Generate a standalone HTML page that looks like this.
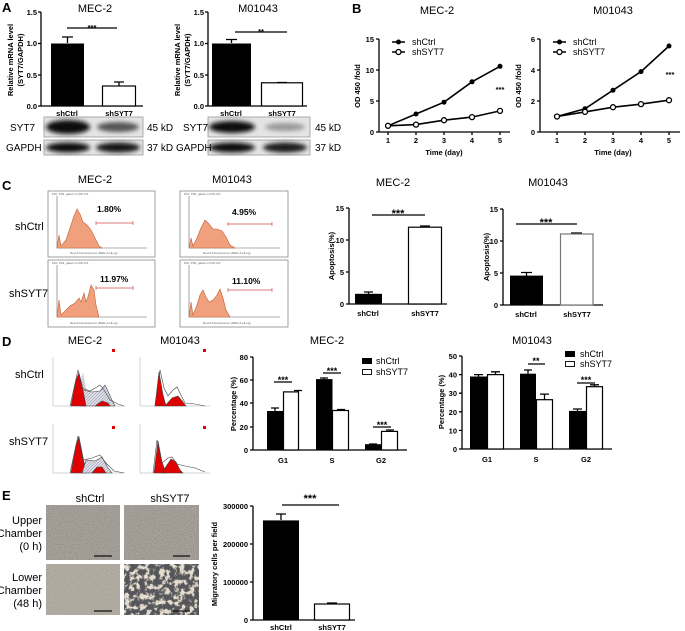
<!DOCTYPE html>
<html><head><meta charset="utf-8"><style>
html,body{margin:0;padding:0;background:#fff}
svg{display:block;font-family:"Liberation Sans",Arial,sans-serif}
.t{font-size:11px}
.k{font-size:7.5px;font-weight:bold}
.L{font-size:13px;font-weight:bold}
.r{font-size:11px}
.b{font-size:10px}
</style></head><body>
<svg width="685" height="631" viewBox="0 0 685 631" xmlns="http://www.w3.org/2000/svg">
<defs>
<filter id="noise" x="0" y="0" width="100%" height="100%">
<feTurbulence type="fractalNoise" baseFrequency="0.9" numOctaves="2" seed="3"/>
<feColorMatrix type="matrix" values="0 0 0 0 0.25  0 0 0 0 0.24  0 0 0 0 0.22  0 0 0 -2.2 1.3"/>
</filter>
<filter id="blob" x="0" y="0" width="100%" height="100%">
<feTurbulence type="fractalNoise" baseFrequency="0.2" numOctaves="3" seed="7"/>
<feColorMatrix type="matrix" values="0 0 0 0 0.78  0 0 0 0 0.72  0 0 0 0 0.62  0 0 0 -6 3.2"/>
</filter>
<filter id="bl"><feGaussianBlur stdDeviation="2"/></filter>
<pattern id="hatch" width="3" height="3" patternUnits="userSpaceOnUse"><rect width="3" height="3" fill="#dcdce6"/><path d="M0 3L3 0" stroke="#8a8aa0" stroke-width="0.5"/></pattern>
</defs>
<g fill="#000" stroke="none">
<text x="2" y="12" class="L">A</text>
<text x="95" y="12" class="t" text-anchor="middle">MEC-2</text>
<text x="258" y="12" class="t" text-anchor="middle">M01043</text>
<g class="k" text-anchor="end">
<text x="37" y="15">1.5</text><text x="37" y="46">1.0</text><text x="37" y="78">0.5</text><text x="37" y="109">0.0</text>
<text x="204" y="15">1.5</text><text x="204" y="46">1.0</text><text x="204" y="78">0.5</text><text x="204" y="109">0.0</text>
</g>
<text transform="translate(13,60) rotate(-90)" class="k" text-anchor="middle">Relative mRNA level</text>
<text transform="translate(23,60) rotate(-90)" class="k" text-anchor="middle">(SYT7/GAPDH)</text>
<text transform="translate(180,60) rotate(-90)" class="k" text-anchor="middle">Relative mRNA level</text>
<text transform="translate(190,60) rotate(-90)" class="k" text-anchor="middle">(SYT7/GAPDH)</text>
<text x="67" y="116" class="k" text-anchor="middle">shCtrl</text>
<text x="119" y="116" class="k" text-anchor="middle">shSYT7</text>
<text x="231" y="116" class="k" text-anchor="middle">shCtrl</text>
<text x="282" y="116" class="k" text-anchor="middle">shSYT7</text>
<text x="92" y="30" class="k" text-anchor="middle" font-size="11">***</text>
<text x="261" y="34" class="k" text-anchor="middle" font-size="11">**</text>
</g>
<g stroke="#000" stroke-width="1.3" fill="none">
<path d="M41 12V106H143M38 12H41M38 43.5H41M38 75H41M38 106H41"/>
<path d="M208 12V106H307M205 12H208M205 43.5H208M205 75H208M205 106H208"/>
<path d="M67 28H117M235 32H287"/>
<path d="M67.5 43V37M62 37H73M119 86V82M114 82H124"/>
<path d="M231.5 43V39.5M226 39.5H237M282 83V82.5M277 82.5H287"/>
</g>
<rect x="51" y="43.5" width="33" height="62.5" fill="#000"/>
<rect x="102.5" y="86" width="33" height="20" fill="#fff" stroke="#000" stroke-width="1.2"/>
<rect x="212" y="43.5" width="39" height="62.5" fill="#000"/>
<rect x="261.5" y="82.8" width="41" height="23.2" fill="#fff" stroke="#000" stroke-width="1.2"/>
<g>
<rect x="44" y="117" width="99" height="20" fill="#e4e4e4" stroke="#999" stroke-width="0.8"/>
<rect x="44" y="140" width="99" height="15" fill="#e4e4e4" stroke="#999" stroke-width="0.8"/>
<rect x="208" y="117" width="102" height="20" fill="#e4e4e4" stroke="#999" stroke-width="0.8"/>
<rect x="208" y="140" width="102" height="15" fill="#e4e4e4" stroke="#999" stroke-width="0.8"/>
<g filter="url(#bl)">
<ellipse cx="68" cy="127" rx="22" ry="7" fill="#111"/>
<ellipse cx="118" cy="127" rx="21" ry="5" fill="#555"/>
<ellipse cx="68" cy="147.5" rx="22" ry="5" fill="#111"/>
<ellipse cx="118" cy="147.5" rx="22" ry="5" fill="#151515"/>
<ellipse cx="232" cy="127" rx="23" ry="6" fill="#111"/>
<ellipse cx="285" cy="127" rx="20" ry="4" fill="#999"/>
<ellipse cx="232" cy="147.5" rx="23" ry="5" fill="#111"/>
<ellipse cx="285" cy="147.5" rx="22" ry="5" fill="#1a1a1a"/>
</g>
</g>
<g class="b">
<text x="10" y="131">SYT7</text><text x="6" y="151">GAPDH</text>
<text x="147" y="131">45 kD</text><text x="147" y="151">37 kD</text>
<text x="183" y="131">SYT7</text><text x="176" y="151">GAPDH</text>
<text x="315" y="131">45 kD</text><text x="315" y="151">37 kD</text>
</g>
<text x="352" y="13" class="L">B</text>
<text x="437" y="14" class="t" text-anchor="middle">MEC-2</text>
<text x="613" y="14" class="t" text-anchor="middle">M01043</text>
<g stroke="#000" stroke-width="1.3" fill="none">
<path d="M379 39V132H510M376 39H379M376 70H379M376 101H379M376 132H379M388 132V135M416 132V135M444 132V135M472 132V135M500 132V135"/>
<path d="M540 39V132H680M537 39H540M537 70H540M537 101H540M537 132H540M557 132V135M585 132V135M613 132V135M641 132V135M669 132V135"/>
<polyline points="388,125.8 416,114 444,102.2 472,81.8 500,66.3" stroke-width="1.6"/>
<polyline points="388,125.8 416,124.6 444,120.2 472,117.1 500,110.9" stroke-width="1.6"/>
<polyline points="557,116.5 585,108.8 613,90.2 641,71.6 669,46" stroke-width="1.6"/>
<polyline points="557,116.5 585,111.9 613,107.2 641,104.1 669,100.2" stroke-width="1.6"/>
<path d="M392 42H405M392 52H405M553 42H566M553 52H566" stroke-width="1.6"/>
</g>
<g fill="#000"><circle cx="388" cy="125.8" r="2.5"/><circle cx="416" cy="114" r="2.5"/><circle cx="444" cy="102.2" r="2.5"/><circle cx="472" cy="81.8" r="2.5"/><circle cx="500" cy="66.3" r="2.5"/>
<circle cx="557" cy="116.5" r="2.5"/><circle cx="585" cy="108.8" r="2.5"/><circle cx="613" cy="90.2" r="2.5"/><circle cx="641" cy="71.6" r="2.5"/><circle cx="669" cy="46" r="2.5"/>
<circle cx="398.5" cy="42" r="2.5"/><circle cx="559.5" cy="42" r="2.5"/></g>
<g fill="#fff" stroke="#000" stroke-width="1.3"><circle cx="388" cy="125.8" r="2.5"/><circle cx="416" cy="124.6" r="2.5"/><circle cx="444" cy="120.2" r="2.5"/><circle cx="472" cy="117.1" r="2.5"/><circle cx="500" cy="110.9" r="2.5"/>
<circle cx="557" cy="116.5" r="2.5"/><circle cx="585" cy="111.9" r="2.5"/><circle cx="613" cy="107.2" r="2.5"/><circle cx="641" cy="104.1" r="2.5"/><circle cx="669" cy="100.2" r="2.5"/>
<circle cx="398.5" cy="52" r="2.5"/><circle cx="559.5" cy="52" r="2.5"/></g>
<g class="k">
<text x="374" y="42" text-anchor="end">15</text><text x="374" y="73" text-anchor="end">10</text><text x="374" y="104" text-anchor="end">5</text><text x="374" y="135" text-anchor="end">0</text>
<text x="535" y="42" text-anchor="end">6</text><text x="535" y="73" text-anchor="end">4</text><text x="535" y="104" text-anchor="end">2</text><text x="535" y="135" text-anchor="end">0</text>
<g text-anchor="middle"><text x="388" y="143">1</text><text x="416" y="143">2</text><text x="444" y="143">3</text><text x="472" y="143">4</text><text x="500" y="143">5</text>
<text x="557" y="143">1</text><text x="585" y="143">2</text><text x="613" y="143">3</text><text x="641" y="143">4</text><text x="669" y="143">5</text>
<text x="444" y="155">Time (day)</text><text x="613" y="155">Time (day)</text></g>
<text transform="translate(360,86) rotate(-90)" text-anchor="middle">OD 450 /fold</text>
<text transform="translate(521,86) rotate(-90)" text-anchor="middle">OD 450 /fold</text>
</g>
<g font-size="9"><text x="412" y="45">shCtrl</text><text x="412" y="55">shSYT7</text><text x="573" y="45">shCtrl</text><text x="573" y="55">shSYT7</text></g>
<text x="500" y="92" class="k" font-size="11" text-anchor="middle">***</text>
<text x="670" y="77" class="k" font-size="11" text-anchor="middle">***</text>
<text x="2" y="190" class="L">C</text>
<text x="95" y="183" class="t" text-anchor="middle">MEC-2</text>
<text x="232" y="183" class="t" text-anchor="middle">M01043</text>
<text x="15" y="230" class="r">shCtrl</text>
<text x="9" y="297" class="r">shSYT7</text>
<g fill="#fff" stroke="#888" stroke-width="0.8">
<rect x="48" y="191" width="107" height="66"/><rect x="48" y="260" width="107" height="67"/>
<rect x="180" y="191" width="108" height="66"/><rect x="180" y="260" width="108" height="67"/>
</g>
<g stroke="#666" stroke-width="0.6" fill="none">
<path d="M57 196V248H147M57 265V317H147M189 196V248H280M189 265V317H280"/>
</g>
<g fill="#f0a07c" stroke="#c0603a" stroke-width="0.6">
<path d="M57 248 L59 235 L61 246 L66 240 L70 228 L74 216 L77 209 L80 214 L83 222 L87 225 L91 230 L95 238 L99 246 L102 248Z"/>
<path d="M57 317 L59 300 L61 315 L66 310 L70 306 L75 303 L79 298 L81 302 L84 293 L86 302 L88 297 L91 285 L94 290 L96 305 L99 317Z"/>
<path d="M189 248 L191 238 L193 246 L197 238 L201 228 L205 220 L209 224 L213 229 L217 229 L222 231 L226 237 L230 245 L235 248Z"/>
<path d="M189 317 L191 302 L193 315 L197 305 L200 295 L203 290 L206 297 L209 302 L213 300 L217 295 L220 289 L223 298 L226 310 L230 317Z"/>
</g>
<g stroke="#d05050" stroke-width="0.7"><path d="M96 223H133M96 221V225M133 221V225M96 288H133M96 286V290M133 286V290M228 224H272M228 222V226M272 222V226M228 290H272M228 288V292M272 288V292"/></g>
<g font-size="3" fill="#666"><text x="52" y="195">Plot: P03, gated on P01.R1</text><text x="52" y="264">Plot: P03, gated on P01.R1</text><text x="184" y="195">Plot: P03, gated on P01.R1</text><text x="184" y="264">Plot: P03, gated on P01.R1</text>
<text x="70" y="254">Red-A Fluorescence (RED-A-HLog)</text><text x="70" y="324">Red-A Fluorescence (RED-A-HLog)</text><text x="203" y="254">Red-A Fluorescence (RED-A-HLog)</text><text x="203" y="324">Red-A Fluorescence (RED-A-HLog)</text></g>
<g font-size="8.5" font-weight="bold"><text x="97" y="212">1.80%</text><text x="232" y="215">4.95%</text><text x="100" y="282">11.97%</text><text x="232" y="284">11.10%</text></g>
<text x="393" y="186" class="t" text-anchor="middle">MEC-2</text>
<text x="548" y="186" class="t" text-anchor="middle">M01043</text>
<g stroke="#000" stroke-width="1.3" fill="none">
<path d="M349 208V304H447M346 208H349M346 240H349M346 272H349M346 304H349"/>
<path d="M503 209V305H603M500 209H503M500 241H503M500 273H503M500 305H503"/>
<path d="M372 215H425M516 224H577"/>
<path d="M368.5 294V292M364 292H373M425 227V226M420 226H430"/>
<path d="M526.5 276V272.5M521 272.5H532M576.5 234V233M571 233H582"/>
</g>
<rect x="355" y="293.8" width="27" height="10.2" fill="#000"/>
<rect x="408.5" y="227.2" width="33" height="76.8" fill="#fff" stroke="#000" stroke-width="1.2"/>
<rect x="510" y="275.6" width="33" height="29.4" fill="#000"/>
<rect x="560.5" y="234" width="32.5" height="71" fill="#fff" stroke="#777" stroke-width="1.2"/>
<g class="k">
<g text-anchor="end"><text x="344" y="211">15</text><text x="344" y="243">10</text><text x="344" y="275">5</text><text x="344" y="307">0</text>
<text x="498" y="212">15</text><text x="498" y="244">10</text><text x="498" y="276">5</text><text x="498" y="308">0</text></g>
<g text-anchor="middle"><text x="368" y="316">shCtrl</text><text x="425" y="316">shSYT7</text><text x="526" y="317">shCtrl</text><text x="577" y="317">shSYT7</text></g>
<text transform="translate(334,256) rotate(-90)" text-anchor="middle">Apoptosis(%)</text>
<text transform="translate(489,257) rotate(-90)" text-anchor="middle">Apoptosis(%)</text>
<text x="398" y="217" text-anchor="middle" font-size="11">***</text>
<text x="546" y="226" text-anchor="middle" font-size="11">***</text>
</g>
<text x="2" y="346" class="L">D</text>
<text x="85" y="344" class="t" text-anchor="middle">MEC-2</text>
<text x="180" y="344" class="t" text-anchor="middle">M01043</text>
<text x="15" y="378" class="r">shCtrl</text>
<text x="9" y="445" class="r">shSYT7</text>
<g stroke="#aaa" stroke-width="0.5" fill="none">
<path d="M53 357V406H125M53 424V473H125M140 357V406H210M140 424V473H210"/>
</g>
<g stroke="#444" stroke-width="0.6">
<path d="M75 406 L83 372 L89 406Z" fill="url(#hatch)" stroke="none"/>
<path d="M83 390 L92 392 L100 391 L105 385 L112 400 L115 406 L80 406Z" fill="url(#hatch)"/>
<path d="M71 406 L76 380 L79 373 L82 385 L86 406Z" fill="#e00000"/>
<path d="M95 406 L102 401 L108 403 L110 406Z" fill="#e00000"/>
<path d="M70 406 L78 370 L82 388 L90 391 L97 387 L100 385 L104 390 L110 400 L118 404 L124 406" fill="none"/>
<path d="M155 406 L160 370 L164 388 L168 396 L173 390 L177 387 L181 395 L185 403 L195 404 L205 406" fill="none"/>
<path d="M155 406 L159 372 L163 395 L166 406Z" fill="#e00000"/>
<path d="M165 406 L172 398 L178 396 L183 402 L186 406Z" fill="#e00000"/>
<path d="M71 473 L76 445 L79 437 L82 452 L86 473Z" fill="#e00000"/>
<path d="M82 473 L86 460 L95 461 L102 457 L108 468 L112 473Z" fill="url(#hatch)"/>
<path d="M92 473 L97 467 L102 467 L106 473Z" fill="#e00000"/>
<path d="M70 473 L78 436 L83 460 L92 458 L100 455 L106 463 L114 471 L124 473" fill="none"/>
<path d="M154 473 L158 441 L162 462 L166 473Z" fill="#e00000"/>
<path d="M162 473 L167 465 L171 459 L176 462 L180 470 L183 473Z" fill="#e00000"/>
<path d="M153 473 L157 440 L162 463 L168 458 L172 457 L177 464 L185 466 L195 468 L205 472" fill="none"/>
</g>
<g fill="#e00000"><rect x="112" y="349" width="3" height="3"/><rect x="112" y="426" width="3" height="3"/><rect x="203" y="349" width="3" height="3"/><rect x="203" y="426" width="3" height="3"/></g>
<text x="327" y="344" class="t" text-anchor="middle">MEC-2</text>
<g stroke="#000" stroke-width="1.3" fill="none">
<path d="M253 357V450H407M250 357H253M250 380H253M250 403H253M250 427H253M250 450H253"/>
<path d="M274 382H292M323 373H341M373 427H391"/>
<path d="M275 411V408M271 408H279M298 391.5V390.5M294 390.5H302M324 379V378M320 378H328M341 411.5V409.5M337 409.5H345M373 445V444M369 444H377M390 431V430M386 430H394"/>
</g>
<rect x="267" y="411" width="16.5" height="39" fill="#000"/>
<rect x="283.5" y="391.9" width="15" height="58.1" fill="#fff" stroke="#000" stroke-width="1.2"/>
<rect x="316" y="379.1" width="16.5" height="70.9" fill="#000"/>
<rect x="332.5" y="410.5" width="16" height="39.5" fill="#fff" stroke="#000" stroke-width="1.2"/>
<rect x="365" y="444.2" width="16.5" height="5.8" fill="#000"/>
<rect x="381.5" y="431.4" width="16" height="18.6" fill="#fff" stroke="#000" stroke-width="1.2"/>
<rect x="362" y="358" width="10" height="6" fill="#000"/>
<rect x="362.5" y="369.5" width="9" height="5" fill="#fff" stroke="#000" stroke-width="0.9"/>
<g font-size="9"><text x="376" y="364">shCtrl</text><text x="376" y="375">shSYT7</text></g>
<g class="k">
<g text-anchor="end"><text x="248" y="360">80</text><text x="248" y="383">60</text><text x="248" y="406">40</text><text x="248" y="430">20</text><text x="248" y="453">0</text></g>
<g text-anchor="middle"><text x="283" y="463">G1</text><text x="332" y="463">S</text><text x="381" y="463">G2</text>
<text x="283" y="383" font-size="9">***</text><text x="332" y="374" font-size="9">***</text><text x="382" y="428" font-size="9">***</text></g>
<text transform="translate(236,404) rotate(-90)" text-anchor="middle">Percentage (%)</text>
</g>
<text x="532" y="344" class="t" text-anchor="middle">M01043</text>
<g stroke="#000" stroke-width="1.3" fill="none">
<path d="M462 356V449H612M459 356H462M459 374.6H462M459 393.2H462M459 411.8H462M459 430.4H462M459 449H462"/>
<path d="M528 364H545M577 383H595"/>
<path d="M478.5 376.5V374.6M474 374.6H483M495.5 374.6V371.8M491 371.8H500M528 373.7V370M524 370H532M544.5 399.7V394.1M540 394.1H549M577.5 410.9V409M573 409H582M594.5 386.7V384.8M590 384.8H599"/>
</g>
<rect x="470" y="376.5" width="17" height="72.5" fill="#000"/>
<rect x="487.5" y="374.6" width="16" height="74.4" fill="#fff" stroke="#000" stroke-width="1.2"/>
<rect x="520" y="373.7" width="16" height="75.3" fill="#000"/>
<rect x="536.5" y="399.7" width="16" height="49.3" fill="#fff" stroke="#000" stroke-width="1.2"/>
<rect x="569" y="410.9" width="17" height="38.1" fill="#000"/>
<rect x="586.5" y="386.7" width="16" height="62.3" fill="#fff" stroke="#000" stroke-width="1.2"/>
<rect x="565" y="351" width="10" height="6" fill="#000"/>
<rect x="565.5" y="361.5" width="9" height="5" fill="#fff" stroke="#000" stroke-width="0.9"/>
<g font-size="9"><text x="580" y="357">shCtrl</text><text x="580" y="367">shSYT7</text></g>
<g class="k">
<g text-anchor="end"><text x="457" y="359">50</text><text x="457" y="377.6">40</text><text x="457" y="396.2">30</text><text x="457" y="414.8">20</text><text x="457" y="433.4">10</text><text x="457" y="452">0</text></g>
<g text-anchor="middle"><text x="487" y="462">G1</text><text x="536" y="462">S</text><text x="586" y="462">G2</text>
<text x="536" y="364" font-size="9">**</text><text x="586" y="383" font-size="9">***</text></g>
<text transform="translate(444,402) rotate(-90)" text-anchor="middle">Percentage (%)</text>
</g>
<text x="2" y="500" class="L">E</text>
<text x="90" y="502" class="t" text-anchor="middle">shCtrl</text>
<text x="170" y="502" class="t" text-anchor="middle">shSYT7</text>
<g class="r" text-anchor="end"><text x="42" y="524">Upper</text><text x="42" y="537">Chamber</text><text x="42" y="550">(0 h)</text>
<text x="42" y="581">Lower</text><text x="42" y="594">Chamber</text><text x="42" y="607">(48 h)</text></g>
<rect x="46" y="505" width="74" height="55" fill="#a8a39b"/>
<rect x="46" y="505" width="74" height="55" filter="url(#noise)"/>
<rect x="124" y="505" width="75" height="55" fill="#a8a39b"/>
<rect x="124" y="505" width="75" height="55" filter="url(#noise)"/>
<rect x="46" y="564" width="74" height="51" fill="#b4aea4"/>
<rect x="46" y="564" width="74" height="51" filter="url(#noise)" opacity="0.5"/>
<rect x="124" y="564" width="75" height="51" fill="#55565a"/>
<rect x="124" y="564" width="75" height="51" filter="url(#blob)"/>
<g stroke="#111" stroke-width="1.2"><path d="M94 556H112M173 556H190M94 611H112M173 611H190"/></g>
<g stroke="#000" stroke-width="1.3" fill="none">
<path d="M253 506V620H355M250 506H253M250 544H253M250 582H253M250 620H253"/>
<path d="M282 505H339"/>
<path d="M281 520V514M276 514H286M332 604V603M327 603H337"/>
</g>
<rect x="263" y="520.4" width="36" height="99.6" fill="#000"/>
<rect x="314.5" y="604" width="35" height="16" fill="#fff" stroke="#000" stroke-width="1.2"/>
<g class="k">
<g text-anchor="end"><text x="248" y="509">300000</text><text x="248" y="547">200000</text><text x="248" y="585">100000</text><text x="248" y="623">0</text></g>
<g text-anchor="middle"><text x="281" y="630">shCtrl</text><text x="332" y="630">shSYT7</text>
<text x="310" y="502" font-size="11">***</text></g>
<text transform="translate(217,564) rotate(-90)" text-anchor="middle">Migratory cells per field</text>
</g>
</svg>
</body></html>
